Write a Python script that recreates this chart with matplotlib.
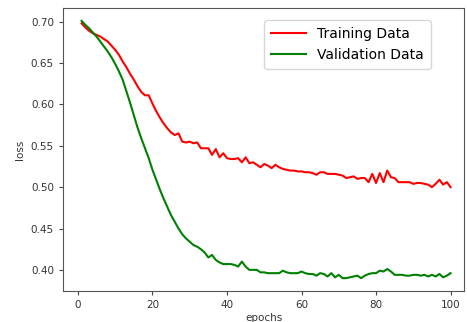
import matplotlib
matplotlib.use('Agg')
import matplotlib.pyplot as plt

epochs = list(range(1, 101))

train_loss = [0.698, 0.693, 0.689, 0.686, 0.684, 0.682, 0.679, 0.676, 0.671, 0.666,
              0.660, 0.652, 0.645, 0.637, 0.630, 0.622, 0.615, 0.611, 0.611, 0.601,
              0.592, 0.584, 0.577, 0.571, 0.566, 0.563, 0.565, 0.555, 0.554, 0.555,
              0.553, 0.554, 0.547, 0.547, 0.547, 0.539, 0.546, 0.536, 0.541, 0.535,
              0.534, 0.534, 0.535, 0.530, 0.536, 0.529, 0.530, 0.527, 0.524, 0.528,
              0.526, 0.523, 0.527, 0.524, 0.522, 0.521, 0.520, 0.520, 0.519, 0.519,
              0.518, 0.518, 0.517, 0.515, 0.518, 0.518, 0.516, 0.516, 0.516, 0.515,
              0.514, 0.511, 0.512, 0.513, 0.510, 0.511, 0.511, 0.506, 0.516, 0.505,
              0.517, 0.506, 0.520, 0.512, 0.511, 0.506, 0.506, 0.506, 0.506, 0.504,
              0.505, 0.505, 0.504, 0.503, 0.500, 0.504, 0.509, 0.503, 0.506, 0.500]

val_loss = [0.701, 0.696, 0.692, 0.687, 0.682, 0.676, 0.670, 0.664, 0.657, 0.649,
            0.640, 0.630, 0.616, 0.602, 0.587, 0.572, 0.559, 0.547, 0.535, 0.521,
            0.509, 0.497, 0.486, 0.476, 0.466, 0.458, 0.450, 0.443, 0.438, 0.434,
            0.430, 0.428, 0.425, 0.421, 0.415, 0.418, 0.412, 0.409, 0.407, 0.407,
            0.407, 0.406, 0.404, 0.410, 0.404, 0.400, 0.400, 0.400, 0.397, 0.397,
            0.396, 0.396, 0.396, 0.396, 0.399, 0.397, 0.396, 0.396, 0.396, 0.398,
            0.396, 0.395, 0.395, 0.393, 0.396, 0.395, 0.392, 0.396, 0.391, 0.394,
            0.390, 0.390, 0.391, 0.392, 0.393, 0.390, 0.393, 0.395, 0.396, 0.396,
            0.399, 0.398, 0.401, 0.398, 0.394, 0.394, 0.394, 0.393, 0.393, 0.394,
            0.394, 0.393, 0.394, 0.392, 0.394, 0.392, 0.395, 0.391, 0.393, 0.396]

fig = plt.figure(figsize=(4.67, 3.22), dpi=100)
ax = fig.add_axes([63/467, 31/322, (464-63)/467, (291-8)/322])

ax.plot(epochs, train_loss, color='red', linewidth=1.5, label='Training Data')
ax.plot(epochs, val_loss, color='green', linewidth=1.5, label='Validation Data')

ax.set_xlim(-4.0, 103.6)
ax.set_xticks([0, 20, 40, 60, 80, 100])
ax.set_yticks([0.40, 0.45, 0.50, 0.55, 0.60, 0.65, 0.70])
ax.tick_params(labelsize=7.5, length=3, color='#444444', labelcolor='#333333')
for s in ax.spines.values():
    s.set_color('#555555')

ax.set_xlabel('epochs', fontsize=7.5, color='#333333', labelpad=2)
ax.set_ylabel('loss', fontsize=7.5, color='#333333', labelpad=4)

ax.legend(loc='upper right', bbox_to_anchor=(0.917, 0.958), borderaxespad=0,
          fontsize=10, handlelength=2.5, borderpad=0.5, labelspacing=0.5)

fig.savefig('out.png', dpi=100)
